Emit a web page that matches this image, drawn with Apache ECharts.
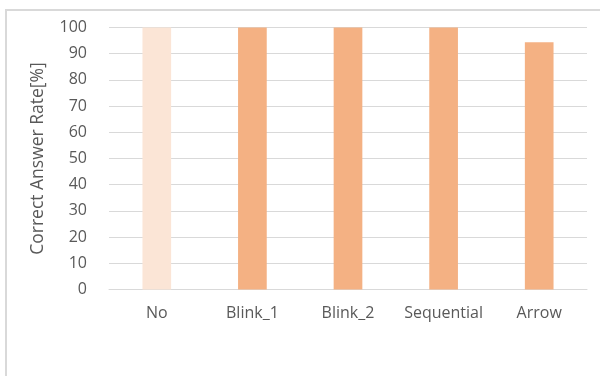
<!DOCTYPE html>
<html>
<head>
<meta charset="utf-8">
<script src="https://cdn.jsdelivr.net/npm/echarts@6/dist/echarts.min.js"></script>
<style>
  html, body { margin: 0; padding: 0; background: #fff; }
  #chart { width: 600px; height: 376px; }
</style>
</head>
<body>
<div id="chart"></div>
<script>
// Correct answer rate per presentation condition
const categories = ['No', 'Blink_1', 'Blink_2', 'Sequential', 'Arrow'];
const rates = [100, 100, 100, 100, 94.4];
const barColors = ['#FBE5D6', '#F4B183', '#F4B183', '#F4B183', '#F4B183'];
const yTicks = { min: 0, max: 100, interval: 10 };

const textColor = '#595959';
const fontFamily = 'Open Sans, Liberation Sans, sans-serif';

const chart = echarts.init(document.getElementById('chart'), null, { renderer: 'canvas' });
chart.setOption({
  animation: false,
  backgroundColor: '#fff',
  graphic: [{
    type: 'rect',
    shape: { x: 6, y: 10, width: 620, height: 400 },
    style: { fill: 'none', stroke: '#d9d9d9', lineWidth: 2 },
    silent: true,
    z: -1
  }],
  grid: { left: 109, right: 13, top: 27.5, bottom: 86.5 },
  xAxis: {
    type: 'category',
    data: categories,
    axisLine: { lineStyle: { color: '#d9d9d9', width: 1 } },
    axisTick: { show: false },
    axisLabel: { color: textColor, fontSize: 16, fontFamily, margin: 16, interval: 0 }
  },
  yAxis: {
    type: 'value',
    min: yTicks.min,
    max: yTicks.max,
    interval: yTicks.interval,
    name: 'Correct Answer Rate[%]',
    nameLocation: 'middle',
    nameGap: 61.5,
    nameMoveOverlap: false,
    nameTextStyle: { color: textColor, fontSize: 17.5, fontFamily },
    axisLine: { show: false },
    axisTick: { show: false },
    axisLabel: { color: textColor, fontSize: 16, fontFamily, margin: 22 },
    splitLine: { lineStyle: { color: '#d9d9d9', width: 1 } }
  },
  series: [{
    type: 'bar',
    data: rates.map((v, i) => ({ value: v, itemStyle: { color: barColors[i] } })),
    barWidth: '30%'
  }]
});
</script>
</body>
</html>
